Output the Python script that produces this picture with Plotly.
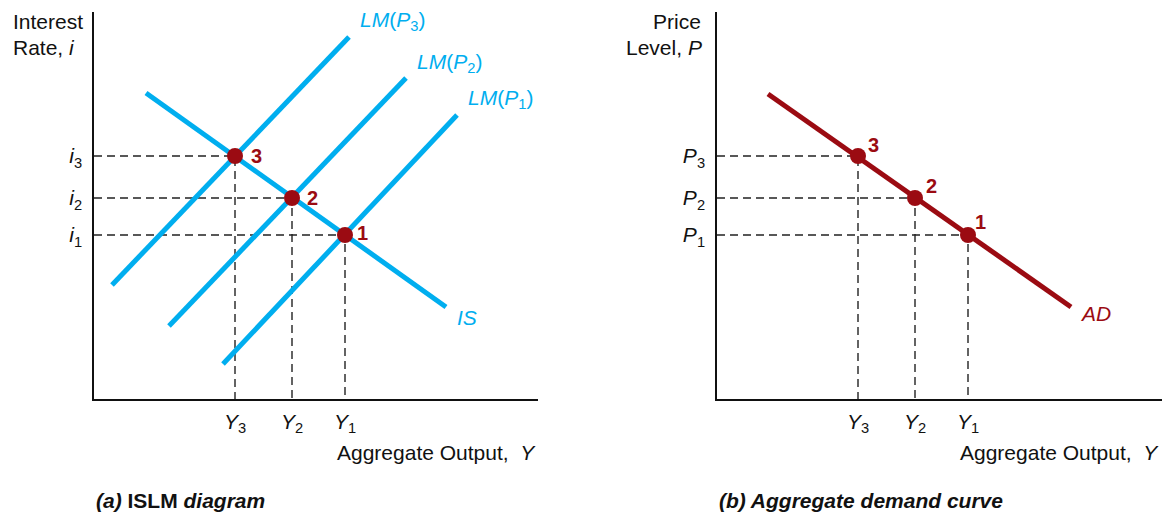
import plotly.graph_objects as go

# ---------------- data (arbitrary diagram units) ----------------
points = ["1", "2", "3"]
Y_out = [251, 198, 141]          # Y1, Y2, Y3
i_rate = [164, 201, 243]         # i1, i2, i3
P_level = [164, 201, 243]        # P1, P2, P3

IS_x = [52, 352]
IS_y = [306, 92]
LM3_x = [18, 255]
LM3_y = [114, 362]
LM2_x = [75, 312]
LM2_y = [73, 321]
LM1_x = [129, 363]
LM1_y = [35, 284]
AD_x = [51, 354]
AD_y = [305, 92]

Y_ticks = ["<i>Y</i><sub>1</sub>", "<i>Y</i><sub>2</sub>", "<i>Y</i><sub>3</sub>"]
i_ticks = ["<i>i</i><sub>1</sub>", "<i>i</i><sub>2</sub>", "<i>i</i><sub>3</sub>"]
P_ticks = ["<i>P</i><sub>1</sub>", "<i>P</i><sub>2</sub>", "<i>P</i><sub>3</sub>"]

# ---------------- style ----------------
W, H = 1171, 512
FONT = "Liberation Sans, Arial, Helvetica, sans-serif"
BLUE = "#00aeef"
RED = "#9b0b12"
DASH = "#222222"
FS = 21


def px(x):
    return x / W


def py(y):
    return 1 - y / H


fig = go.Figure()

# dashed guide lines
for Y, i in zip(Y_out, i_rate):
    fig.add_trace(go.Scatter(x=[0, Y, Y], y=[i, i, 0], mode="lines",
                             line=dict(color=DASH, width=1.4, dash="8px,5px"),
                             xaxis="x", yaxis="y", hoverinfo="skip"))
for Y, p in zip(Y_out, P_level):
    fig.add_trace(go.Scatter(x=[0, Y, Y], y=[p, p, 0], mode="lines",
                             line=dict(color=DASH, width=1.4, dash="8px,5px"),
                             xaxis="x2", yaxis="y2", hoverinfo="skip"))

# IS / LM curves
for xs, ys in [(IS_x, IS_y), (LM3_x, LM3_y), (LM2_x, LM2_y), (LM1_x, LM1_y)]:
    fig.add_trace(go.Scatter(x=xs, y=ys, mode="lines",
                             line=dict(color=BLUE, width=5),
                             xaxis="x", yaxis="y"))
# AD curve
fig.add_trace(go.Scatter(x=AD_x, y=AD_y, mode="lines",
                         line=dict(color=RED, width=5),
                         xaxis="x2", yaxis="y2"))

# equilibrium points
fig.add_trace(go.Scatter(x=Y_out, y=i_rate, mode="markers",
                         marker=dict(color=RED, size=16),
                         xaxis="x", yaxis="y"))
fig.add_trace(go.Scatter(x=Y_out, y=P_level, mode="markers",
                         marker=dict(color=RED, size=16),
                         xaxis="x2", yaxis="y2"))

ann = []
# point numbers
left_shift = [(17, 2), (20, 0), (21, 0)]
right_shift = [(12, 13), (16, 12), (15, 11)]
for k, lab in enumerate(points):
    ann.append(dict(x=Y_out[k], y=i_rate[k], xref="x", yref="y", text=f"<b>{lab}</b>",
                    showarrow=False, xshift=left_shift[k][0], yshift=left_shift[k][1],
                    font=dict(color=RED, size=20, family=FONT)))
    ann.append(dict(x=Y_out[k], y=P_level[k], xref="x2", yref="y2", text=f"<b>{lab}</b>",
                    showarrow=False, xshift=right_shift[k][0], yshift=right_shift[k][1],
                    font=dict(color=RED, size=20, family=FONT)))

# curve labels
curve_labels = [
    (LM3_x[1], LM3_y[1], "<i>LM</i>(<i>P</i><sub>3</sub>)", 9, 16, BLUE, "x", "y"),
    (LM2_x[1], LM2_y[1], "<i>LM</i>(<i>P</i><sub>2</sub>)", 9, 15, BLUE, "x", "y"),
    (LM1_x[1], LM1_y[1], "<i>LM</i>(<i>P</i><sub>1</sub>)", 9, 16, BLUE, "x", "y"),
    (IS_x[1], IS_y[1], "<i>IS</i>", 9, -10, BLUE, "x", "y"),
    (AD_x[1], AD_y[1], "<i>AD</i>", 7, -6, RED, "x2", "y2"),
]
for x, y, t, xs, ys, c, xr, yr in curve_labels:
    ann.append(dict(x=x, y=y, xref=xr, yref=yr, text=t, showarrow=False,
                    xanchor="left", yanchor="middle", xshift=xs, yshift=ys,
                    font=dict(color=c, size=FS, family=FONT)))

# axis titles
ann += [
    dict(x=px(11), y=py(21), xref="paper", yref="paper", text="Interest", showarrow=False,
         xanchor="left", yanchor="middle", font=dict(size=FS, family=FONT, color="#111")),
    dict(x=px(11), y=py(47), xref="paper", yref="paper", text="Rate, <i>i</i>", showarrow=False,
         xanchor="left", yanchor="middle", font=dict(size=FS, family=FONT, color="#111")),
    dict(x=px(703), y=py(21), xref="paper", yref="paper", text="Price", showarrow=False,
         xanchor="right", yanchor="middle", font=dict(size=FS, family=FONT, color="#111")),
    dict(x=px(704), y=py(47), xref="paper", yref="paper", text="Level, <i>P</i>", showarrow=False,
         xanchor="right", yanchor="middle", font=dict(size=FS, family=FONT, color="#111")),
    dict(x=px(538), y=py(452), xref="paper", yref="paper", text="Aggregate Output,  <i>Y</i>",
         showarrow=False, xanchor="right", yanchor="middle",
         font=dict(size=FS, family=FONT, color="#111")),
    dict(x=px(1161), y=py(452), xref="paper", yref="paper", text="Aggregate Output,  <i>Y</i>",
         showarrow=False, xanchor="right", yanchor="middle",
         font=dict(size=FS, family=FONT, color="#111")),
    dict(x=px(94), y=py(500), xref="paper", yref="paper",
         text="<b><i>(a)</i> ISLM <i>diagram</i></b>", showarrow=False,
         xanchor="left", yanchor="middle", font=dict(size=FS, family=FONT, color="#111")),
    dict(x=px(717), y=py(500), xref="paper", yref="paper",
         text="<b><i>(b) Aggregate demand curve</i></b>", showarrow=False,
         xanchor="left", yanchor="middle", font=dict(size=FS, family=FONT, color="#111")),
]

axis_common = dict(showline=True, linecolor="#111", linewidth=1.5, showgrid=False,
                   zeroline=False, ticks="", automargin=False,
                   tickfont=dict(size=FS, family=FONT, color="#111"), fixedrange=True)

fig.update_layout(
    width=W, height=H,
    margin=dict(l=0, r=0, t=0, b=0),
    paper_bgcolor="white", plot_bgcolor="white",
    showlegend=False,
    font=dict(family=FONT, size=FS, color="#111"),
    xaxis=dict(domain=[px(94), px(538)], range=[0, 444], anchor="y",
               tickvals=Y_out, ticktext=Y_ticks, ticklabelstandoff=3, **axis_common),
    yaxis=dict(domain=[py(399), py(12)], range=[0, 387], anchor="x",
               tickvals=i_rate, ticktext=i_ticks, ticklabelstandoff=6, **axis_common),
    xaxis2=dict(domain=[px(717), px(1162)], range=[0, 445], anchor="y2",
                tickvals=Y_out, ticktext=Y_ticks, ticklabelstandoff=3, **axis_common),
    yaxis2=dict(domain=[py(399), py(12)], range=[0, 387], anchor="x2",
                tickvals=P_level, ticktext=P_ticks, ticklabelstandoff=6, **axis_common),
    annotations=ann,
)

fig.write_html(
    "out.html",
    config={"displayModeBar": False},
    post_script="document.body.style.margin='0';document.body.style.padding='0';",
)
